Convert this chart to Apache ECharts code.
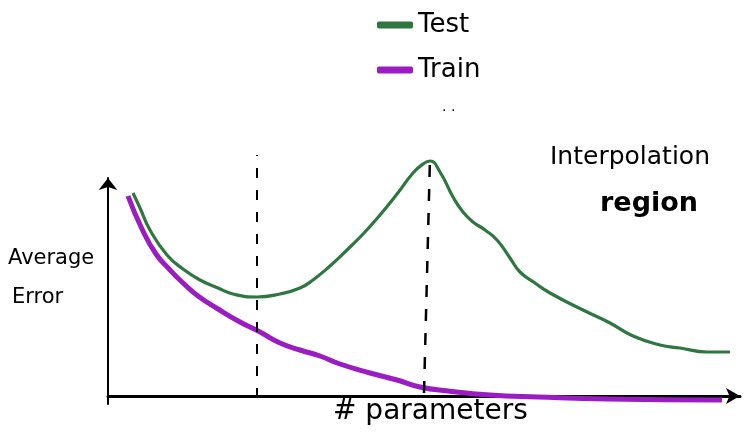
<!DOCTYPE html>
<html><head><meta charset="utf-8">
<script src="https://cdn.jsdelivr.net/npm/echarts@6/dist/echarts.min.js"></script>
<style>html,body{margin:0;padding:0;background:#fff}#c{width:745px;height:439px}</style>
</head><body><div id="c"></div>
<script>
// x: model size (# parameters, arbitrary units), y: average error (arbitrary units)
const testX = [25,32,42,59,75,92,110,125,149,172,192,205,222,239,257,272,289,305,315,322,332,345,355,365,377,389,402,412,427,442,475,502,525,552,572,599,622];
const testY = [203,188,166,141,127,116,108,102,99,102,108,116,130,146,164,181,202,223,232,235,224,199,184,174,166,156,138,124,113,103,86,73,60,51,48,44,44];
const trainX = [20,34,48,62,75,90,110,132,152,172,192,212,232,262,289,312,340,382,430,500,614];
const trainY = [200,167,142,126,113,100,87,74,64,53,46,40,32,23,16,9,5,1,-1,-3,-4];
const guide1X = [149,149], guide1Y = [-2,241];
const guide2X = [316,322], guide2Y = [3,238];
const seriesNames = ['Test','Train'];

const zip = (a,b)=>a.map((v,i)=>[v,b[i]]);
const green = '#2f7741', purple = '#9a1cc2';
const font = 'DejaVu Sans';
const chart = echarts.init(document.getElementById('c'));
chart.setOption({
  animation:false,
  grid:{left:108,right:5,top:178,bottom:35},
  xAxis:{type:'value',min:0,max:632,axisLine:{onZero:true,lineStyle:{color:'#000',width:3},symbol:['none','arrow'],symbolSize:[12,14]},axisTick:{show:false},axisLabel:{show:false},splitLine:{show:false}},
  yAxis:{type:'value',min:-8,max:218,axisLine:{show:true,onZero:true,lineStyle:{color:'#000',width:2},symbol:['none','arrow'],symbolSize:[14,12]},axisTick:{show:false},axisLabel:{show:false},splitLine:{show:false}},
  legend:{orient:'vertical',left:372,top:7,itemGap:19,itemWidth:36,itemHeight:7,icon:'roundRect',
    data:seriesNames,textStyle:{fontFamily:font,fontSize:26,color:'#000'}},
  series:[
    {name:'Test',type:'line',data:zip(testX,testY),smooth:0.5,showSymbol:false,clip:false,lineStyle:{color:green,width:3.2},itemStyle:{color:green}},
    {name:'Train',type:'line',data:zip(trainX,trainY),smooth:0.5,showSymbol:false,clip:false,lineStyle:{color:purple,width:5},itemStyle:{color:purple}},
    {type:'line',data:zip(guide1X,guide1Y),showSymbol:false,clip:false,silent:true,lineStyle:{color:'#000',width:2,type:[10,12]}},
    {type:'line',data:zip(guide2X,guide2Y),showSymbol:false,clip:false,silent:true,lineStyle:{color:'#000',width:2.5,type:[12,12]}}
  ],
  graphic:[
    {type:'text',left:8,top:248,style:{text:'Average',fontFamily:font,fontSize:21,fill:'#000'}},
    {type:'text',left:12,top:287,style:{text:'Error',fontFamily:font,fontSize:21,fill:'#000'}},
    {type:'text',left:333,top:398,style:{text:'# parameters',fontFamily:font,fontSize:28,fill:'#000'}},
    {type:'text',left:550,top:145,style:{text:'Interpolation',fontFamily:font,fontSize:25,fill:'#000'}},
    {type:'text',left:600,top:190,style:{text:'region',fontFamily:font,fontSize:27,fontWeight:'bold',fill:'#000'}},
    {type:'text',left:442,top:100,style:{text:'. .',fontFamily:font,fontSize:14,fill:'#000'}}
  ]
});
</script></body></html>
